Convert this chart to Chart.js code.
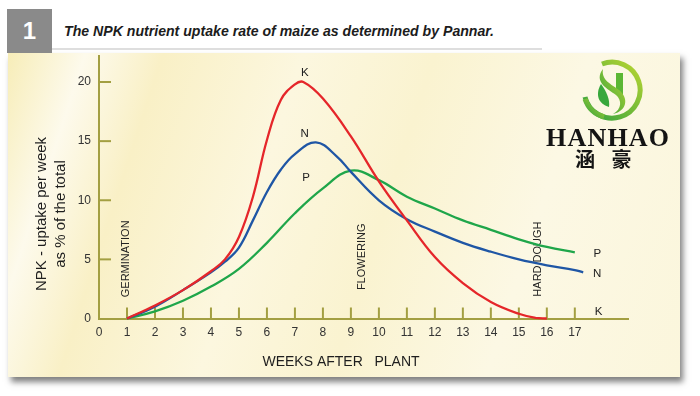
<!DOCTYPE html>
<html><head><meta charset="utf-8">
<script src="https://cdn.jsdelivr.net/npm/chart.js@4.4.1/dist/chart.umd.min.js"></script>
<style>
html,body{margin:0;padding:0;background:#fff;}
#wrap{position:relative;width:700px;height:396px;overflow:hidden;background:#fff;}
#numbox{position:absolute;left:7px;top:9px;width:45px;height:44px;background:#8a8a8a;color:#fff;font:bold 24px 'Liberation Sans',Arial,sans-serif;display:flex;align-items:center;justify-content:center;}
#hline{position:absolute;left:52px;top:48px;width:490px;height:2px;background:#dedede;}
#title{position:absolute;left:64px;top:23px;font:italic bold 14px 'Liberation Sans',Arial,sans-serif;color:#1c1c1c;white-space:nowrap;transform-origin:0 0;display:inline-block;}
#panel{position:absolute;left:8px;top:53px;width:672px;height:324px;
 background:linear-gradient(108deg,#f7edb8 0%,#fdfaec 10%,#f9f0c6 20%,#fcf7df 38%,#faf3d0 55%,#fcf8e4 75%,#fbf6dc 100%);
 box-shadow:3px 5px 6px rgba(0,0,0,.5);}
#cv{position:absolute;left:0;top:0;}
#logo{position:absolute;left:579px;top:57px;}
#hanhao{position:absolute;left:546px;top:125px;font:bold 26px 'Liberation Serif','DejaVu Serif',serif;line-height:26px;letter-spacing:1.2px;color:#141414;}
#hanzi{position:absolute;left:575px;top:147px;font:bold 20px 'Noto Sans CJK SC',sans-serif;line-height:24px;letter-spacing:6px;color:#141414;}
</style></head>
<body><div id="wrap">
<div id="panel"></div>
<div id="hline"></div>
<div id="numbox">1</div>
<span id="title">The NPK nutrient uptake rate of maize as determined by Pannar.</span>
<canvas id="cv" width="700" height="396"></canvas>
<svg id="logo" width="66" height="66" viewBox="-33 -33 66 66">
 <defs><linearGradient id="g" x1="1" y1="0" x2="0" y2="1">
  <stop offset="0" stop-color="#b9d531"/><stop offset="1" stop-color="#2fa13f"/></linearGradient></defs>
 <path d="M -10 -26 A 28 28 0 1 1 -27 7" fill="none" stroke="url(#g)" stroke-width="5"/>
 <path d="M -27 9 A 28 28 0 0 0 -8 27" fill="none" stroke="url(#g)" stroke-width="5"/>
 <path d="M4 -17 L11 -17 L11 6 L4 -1 Z" fill="#5bb734"/>
 <path d="M-9 -21 C-19 -8 -4 -1 4 5 C10 10 10 19 1 24 C15 21 17 8 7 0 C-1 -6 -11 -10 -9 -21 Z" fill="url(#g)"/>
 <path d="M-11 -6 C-17 4 -14 14 -3 17 C-2 10 -5 2 -11 -6 Z" fill="#38a83c"/>
</svg>
<div id="hanhao">HANHAO</div>
<div id="hanzi">涵 豪</div>
</div>
<script>
// ---- data ----
const kWeeks = [1,2,3,4,4.5,5,5.5,6,6.5,7,7.3,8,9,10,11,12,13,14,15,15.6,16];
const kValues = [0,1.1,2.4,4.0,5.0,6.9,10.3,15.1,18.5,19.8,20,18.6,15.4,11.6,8.3,5.2,3.0,1.4,0.4,0.05,0];
const nWeeks = [1,2,3,4,4.5,5,5.5,6,6.5,7,7.75,8.5,9,10,11,12,13,14,15,16,17,17.3];
const nValues = [0,1.0,2.4,3.9,4.8,6.0,8.3,10.7,12.6,13.9,14.9,13.7,12.4,10.0,8.4,7.35,6.4,5.65,5.0,4.5,4.1,3.9];
const pWeeks = [1,2,3,4,5,6,7,8,9,10,11,12,13,14,15,16,17];
const pValues = [0,0.6,1.5,2.7,4.2,6.4,8.9,11.0,12.5,11.7,10.3,9.3,8.3,7.5,6.7,6.05,5.6];
const xTickLabels = [0,1,2,3,4,5,6,7,8,9,10,11,12,13,14,15,16,17];
const xTickMarks = [1,2,3,4,5,6,7,8,9,10,11,12,13,14,15,16,17];
const yTickLabels = [0,5,10,15,20];
const yTickMarks = [5,10,15,20];
const seriesNames = ['K','N','P'];
const stageNames = ['GERMINATION','FLOWERING','HARD DOUGH'];
const stageWeeks = [0.97,9.4,15.7];
const stageBase = [1.8,2.4,1.85];
const peakLabelWeeks = [7.35,7.35,7.4];
const peakLabelValues = [20.8,15.6,11.9];
const endLabelWeeks = [17.85,17.8,17.8];
const endLabelValues = [0.55,3.75,5.5];
const yTitle = ['NPK - uptake per week','as % of the total'];
const xTitle = 'WEEKS AFTER   PLANT';

// ---- style ----
const AXIS = '#a39f42';
const COLORS = ['#e5262a','#1f56a5','#1fa64a'];
const FONT = "'Liberation Sans', Arial, sans-serif";

const toPts = (w,v)=>w.map((x,i)=>({x:x,y:v[i]}));

// header title width fit
(function(){const t=document.getElementById('title');const w=t.getBoundingClientRect().width;t.style.transform='scaleX('+(430/w)+')';})();

const annot = {
  id:'annot',
  beforeDatasetsDraw(chart){
    const {ctx, scales:{x,y}} = chart;
    ctx.save();
    ctx.strokeStyle = AXIS; ctx.lineWidth = 2;
    const y0 = y.getPixelForValue(0), x0 = x.getPixelForValue(0);
    xTickMarks.forEach(w=>{const px=x.getPixelForValue(w);ctx.beginPath();ctx.moveTo(px,y0);ctx.lineTo(px,y0-11);ctx.stroke();});
    yTickMarks.forEach(v=>{const py=y.getPixelForValue(v);ctx.beginPath();ctx.moveTo(x0,py);ctx.lineTo(x0+12,py);ctx.stroke();});
    ctx.fillStyle='#222'; ctx.font='11px '+FONT; ctx.textAlign='left'; ctx.textBaseline='middle';
    stageNames.forEach((s,i)=>{
      ctx.save(); ctx.translate(x.getPixelForValue(stageWeeks[i]), y.getPixelForValue(stageBase[i]));
      ctx.rotate(-Math.PI/2); ctx.fillText(s,0,0); ctx.restore();
    });
    ctx.restore();
  },
  afterDatasetsDraw(chart){
    const {ctx, scales:{x,y}} = chart;
    ctx.save();
    ctx.fillStyle='#222'; ctx.font='11.5px '+FONT; ctx.textAlign='center'; ctx.textBaseline='middle';
    seriesNames.forEach((s,i)=>{
      ctx.fillText(s, x.getPixelForValue(peakLabelWeeks[i]), y.getPixelForValue(peakLabelValues[i]));
      ctx.fillText(s, x.getPixelForValue(endLabelWeeks[i]), y.getPixelForValue(endLabelValues[i]));
    });
    ctx.fillStyle='#1e1e1e';
    ctx.font='15px '+FONT;
    ctx.save(); ctx.translate(42,214); ctx.rotate(-Math.PI/2); ctx.fillText(yTitle[0],0,0); ctx.restore();
    ctx.save(); ctx.translate(61,214); ctx.rotate(-Math.PI/2); ctx.fillText(yTitle[1],0,0); ctx.restore();
    ctx.font='14px '+FONT;
    ctx.fillText(xTitle, 341, 362);
    ctx.restore();
  }
};

const mk = (label, w, v, c)=>({label, data:toPts(w,v), borderColor:c, borderWidth:2.3, pointRadius:0, fill:false, tension:0.4, clip:5});

new Chart(document.getElementById('cv'), {
  type:'line',
  data:{datasets:[
    mk('K',kWeeks,kValues,COLORS[0]),
    mk('N',nWeeks,nValues,COLORS[1]),
    mk('P',pWeeks,pValues,COLORS[2])
  ]},
  options:{
    responsive:false, animation:false, devicePixelRatio:1,
    layout:{padding:{top:56,right:72,left:0,bottom:0}},
    plugins:{legend:{display:false},tooltip:{enabled:false}},
    scales:{
      x:{type:'linear',min:0,max:18.9,
        afterBuildTicks(s){s.ticks=xTickLabels.map(v=>({value:v}));},
        afterFit(s){s.height=77.5;},
        grid:{display:false,drawTicks:false},
        border:{display:true,color:AXIS,width:2},
        ticks:{font:{family:FONT,size:12},color:'#333',padding:7,maxRotation:0,autoSkip:false}},
      y:{type:'linear',min:0,max:22.2,
        afterBuildTicks(s){s.ticks=yTickLabels.map(v=>({value:v}));},
        afterFit(s){s.width=99;},
        grid:{display:false,drawTicks:false},
        border:{display:true,color:AXIS,width:2},
        ticks:{font:{family:FONT,size:12},color:'#333',padding:8}}
    }
  },
  plugins:[annot]
});
</script>
</body></html>
